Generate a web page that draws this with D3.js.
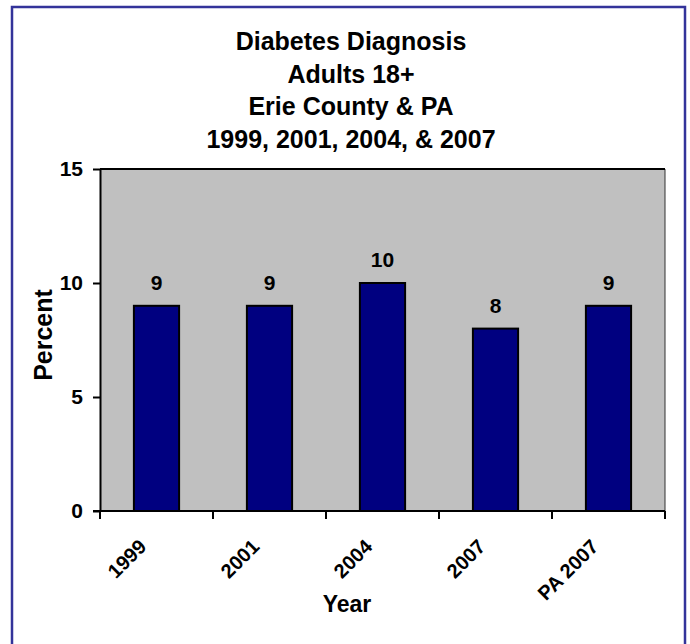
<!DOCTYPE html>
<html>
<head>
<meta charset="utf-8">
<script src="https://cdn.jsdelivr.net/npm/d3@7"></script>
<style>
  html, body { margin: 0; padding: 0; background: #fff; }
  svg { display: block; font-family: "Liberation Sans", Arial, sans-serif; }
</style>
</head>
<body>
<svg id="chart" width="690" height="644"></svg>
<script>
// Chart data
const categories = ["1999", "2001", "2004", "2007", "PA 2007"];
const percentValues = [9, 9, 10, 8, 9];
const yTicks = [0, 5, 10, 15];
const titleLines = ["Diabetes Diagnosis", "Adults 18+", "Erie County & PA", "1999, 2001, 2004, & 2007"];

const svg = d3.select("#chart");
const W = 690, H = 644;

// Outer chart frame (bottom edge runs off the page)
svg.append("rect")
  .attr("x", 12).attr("y", 7)
  .attr("width", 673).attr("height", 660)
  .attr("fill", "#fff")
  .attr("stroke", "#33339a")
  .attr("stroke-width", 2.5);

// Plot area
const plot = { left: 100, top: 169, right: 665, bottom: 511 };

const x = d3.scaleBand()
  .domain(categories)
  .range([plot.left, plot.right])
  .padding(0);

const y = d3.scaleLinear()
  .domain([0, 15])
  .range([plot.bottom, plot.top]);

svg.append("rect")
  .attr("x", plot.left).attr("y", plot.top)
  .attr("width", plot.right - plot.left)
  .attr("height", plot.bottom - plot.top)
  .attr("fill", "#c0c0c0");

// right edge of plot area
svg.append("line")
  .attr("x1", plot.right).attr("x2", plot.right)
  .attr("y1", plot.top).attr("y2", plot.bottom)
  .attr("stroke", "#333").attr("stroke-width", 1);

// top edge of plot area
svg.append("line")
  .attr("x1", plot.left).attr("x2", plot.right)
  .attr("y1", plot.top).attr("y2", plot.top)
  .attr("stroke", "#000").attr("stroke-width", 2);

// Bars
const barW = x.bandwidth() * 0.4;
svg.append("g").selectAll("rect")
  .data(categories.map((c, i) => ({ c, v: percentValues[i] })))
  .join("rect")
  .attr("x", d => x(d.c) + (x.bandwidth() - barW) / 2)
  .attr("y", d => y(d.v))
  .attr("width", barW)
  .attr("height", d => y(0) - y(d.v))
  .attr("fill", "#000080")
  .attr("stroke", "#000")
  .attr("stroke-width", 2);

// Value labels
svg.append("g").selectAll("text")
  .data(categories.map((c, i) => ({ c, v: percentValues[i] })))
  .join("text")
  .attr("x", d => x(d.c) + x.bandwidth() / 2)
  .attr("y", d => y(d.v) - 16)
  .attr("text-anchor", "middle")
  .attr("font-size", 21)
  .attr("font-weight", "bold")
  .attr("fill", "#000")
  .text(d => d.v);

// Y axis
const yAxis = svg.append("g")
  .attr("transform", `translate(${plot.left},0)`)
  .call(d3.axisLeft(y).tickValues(yTicks).tickSize(7).tickPadding(10).tickSizeOuter(0));
yAxis.select(".domain").attr("stroke", "#000").attr("stroke-width", 2);
yAxis.selectAll(".tick line").attr("stroke", "#000").attr("stroke-width", 2);
yAxis.selectAll(".tick text")
  .attr("font-size", 21).attr("font-weight", "bold").attr("fill", "#000")
  .attr("font-family", "Liberation Sans, Arial, sans-serif");

// X axis baseline and tick marks between categories
svg.append("line")
  .attr("x1", plot.left - 7).attr("x2", plot.right)
  .attr("y1", plot.bottom).attr("y2", plot.bottom)
  .attr("stroke", "#000").attr("stroke-width", 2);

const boundaries = categories.map(c => x(c)).concat([plot.right]);
svg.append("g").selectAll("line")
  .data(boundaries)
  .join("line")
  .attr("x1", d => d).attr("x2", d => d)
  .attr("y1", plot.bottom).attr("y2", plot.bottom + 8)
  .attr("stroke", "#000").attr("stroke-width", 2);

// Rotated category labels
svg.append("g").selectAll("text")
  .data(categories)
  .join("text")
  .attr("transform", d => `translate(${x(d) + x.bandwidth() / 2 - 9},548) rotate(-45)`)
  .attr("text-anchor", "end")
  .attr("font-size", 20)
  .attr("font-weight", "bold")
  .attr("fill", "#000")
  .text(d => d);

// Axis titles
svg.append("text")
  .attr("x", 347).attr("y", 612)
  .attr("text-anchor", "middle")
  .attr("font-size", 23).attr("font-weight", "bold")
  .text("Year");

svg.append("text")
  .attr("transform", "translate(52,335) rotate(-90)")
  .attr("text-anchor", "middle")
  .attr("font-size", 25).attr("font-weight", "bold")
  .text("Percent");

// Title
svg.append("g").selectAll("text")
  .data(titleLines)
  .join("text")
  .attr("x", 351)
  .attr("y", (d, i) => 50 + i * 32.7)
  .attr("text-anchor", "middle")
  .attr("font-size", 25)
  .attr("font-weight", "bold")
  .attr("fill", "#000")
  .text(d => d);
</script>
</body>
</html>
